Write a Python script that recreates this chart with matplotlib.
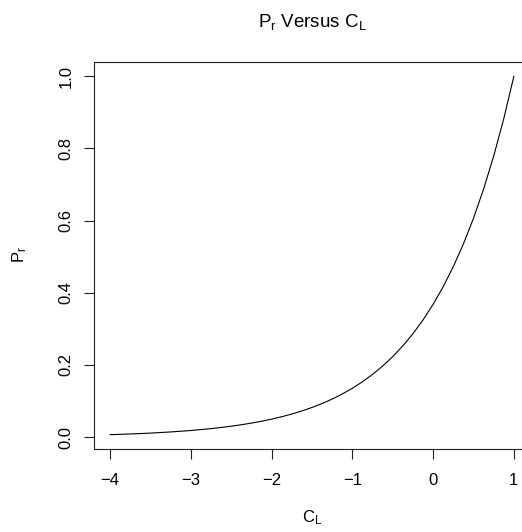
import matplotlib
matplotlib.use("Agg")
import matplotlib.pyplot as plt
from matplotlib.ticker import FormatStrFormatter

plt.rcParams['font.family'] = ['Liberation Sans', 'DejaVu Sans']
plt.rcParams['mathtext.fontset'] = 'custom'
plt.rcParams['mathtext.rm'] = 'Liberation Sans'
plt.rcParams['mathtext.it'] = 'Liberation Sans:italic'
plt.rcParams['mathtext.default'] = 'rm'

# Values
c_l = [-4.0, -3.875, -3.75, -3.625, -3.5, -3.375, -3.25, -3.125, -3.0,
       -2.875, -2.75, -2.625, -2.5, -2.375, -2.25, -2.125, -2.0,
       -1.875, -1.75, -1.625, -1.5, -1.375, -1.25, -1.125, -1.0,
       -0.875, -0.75, -0.625, -0.5, -0.375, -0.25, -0.125, 0.0,
       0.125, 0.25, 0.375, 0.5, 0.625, 0.75, 0.875, 1.0]
p_r = [0.0067, 0.0076, 0.0087, 0.0098, 0.0111, 0.0126, 0.0143, 0.0162, 0.0183,
       0.0208, 0.0235, 0.0267, 0.0302, 0.0342, 0.0388, 0.0439, 0.0498,
       0.0564, 0.0639, 0.0724, 0.0821, 0.0930, 0.1054, 0.1194, 0.1353,
       0.1534, 0.1738, 0.1969, 0.2231, 0.2528, 0.2865, 0.3247, 0.3679,
       0.4169, 0.4724, 0.5353, 0.6065, 0.6873, 0.7788, 0.8825, 1.0]
x_ticks = [-4, -3, -2, -1, 0, 1]
y_ticks = [0.0, 0.2, 0.4, 0.6, 0.8, 1.0]

W, H = 522, 532
fig = plt.figure(figsize=(W / 100, H / 100), dpi=100)
left, right, top, bottom = 94, 530, 62, 449
ax = fig.add_axes([left / W, 1 - bottom / H, (right - left) / W, (bottom - top) / H])

ax.plot(c_l, p_r, color='black', lw=0.8)

xr = max(c_l) - min(c_l)
yr = max(p_r) - min(p_r)
ax.set_xlim(min(c_l) - 0.04 * xr, max(c_l) + 0.04 * xr)
ax.set_ylim(min(p_r) - 0.04 * yr, max(p_r) + 0.04 * yr)

ax.set_xticks(x_ticks)
ax.set_yticks(y_ticks)
ax.yaxis.set_major_formatter(FormatStrFormatter('%.1f'))
ax.tick_params(axis='both', direction='out', length=7.5, width=0.8, labelsize=12,
               colors='#222222', labelcolor='black')
ax.tick_params(axis='x', pad=10)
ax.tick_params(axis='y', pad=7)
for lab in ax.get_yticklabels():
    lab.set_rotation(90)
    lab.set_va('center')

for s in ax.spines.values():
    s.set_linewidth(0.8)
    s.set_color('#222222')

fig.text(312 / W, 1 - 22 / H, r'$\mathrm{P_r}$ Versus $\mathrm{C_L}$',
         ha='center', va='center', fontsize=13.5)
fig.text(312 / W, 1 - 518 / H, r'$\mathrm{C_L}$', ha='center', va='center', fontsize=12)
fig.text(20 / W, 1 - 255 / H, r'$\mathrm{P_r}$', ha='center', va='center',
         fontsize=12, rotation=90)

fig.savefig('out.png', dpi=100, facecolor='white')
